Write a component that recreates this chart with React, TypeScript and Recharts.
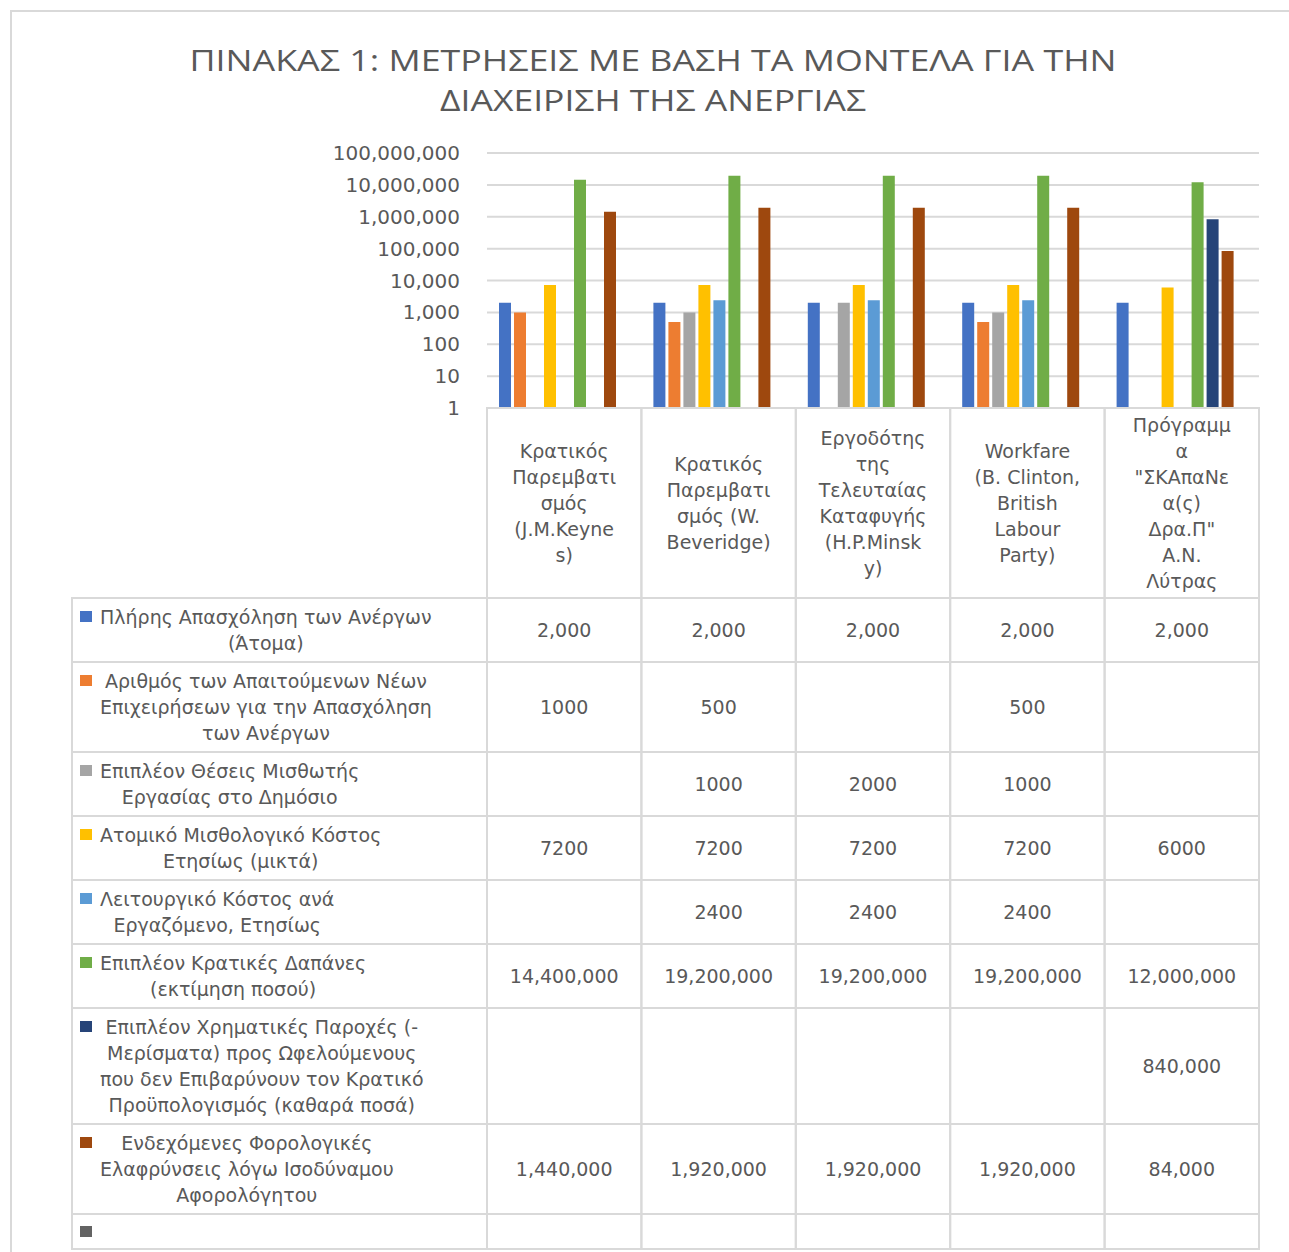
import React from 'react';
import { BarChart, Bar, XAxis, YAxis, CartesianGrid } from 'recharts';

// ---------- DATA ----------
const categories = [
  'Κρατικός Παρεμβατισμός (J.M.Keynes)',
  'Κρατικός Παρεμβατισμός (W. Beveridge)',
  'Εργοδότης της Τελευταίας Καταφυγής (H.P.Minsky)',
  'Workfare (B. Clinton, British Labour Party)',
  'Πρόγραμμα "ΣΚΑπαΝεα(ς) Δρα.Π" Α.Ν. Λύτρας',
];
const categoryLines = [
  ['Κρατικός', 'Παρεμβατι', 'σμός', '(J.M.Keyne', 's)'],
  ['Κρατικός', 'Παρεμβατι', 'σμός (W.', 'Beveridge)'],
  ['Εργοδότης', 'της', 'Τελευταίας', 'Καταφυγής', '(H.P.Minsk', 'y)'],
  ['Workfare', '(B. Clinton,', 'British', 'Labour', 'Party)'],
  ['Πρόγραμμ', 'α', '"ΣΚΑπαΝε', 'α(ς)', 'Δρα.Π"', 'Α.Ν.', 'Λύτρας'],
];

const fullEmployment = [2000, 2000, 2000, 2000, 2000];
const newBusinesses = [1000, 500, null, 500, null];
const publicJobs = [null, 1000, 2000, 1000, null];
const wageCost = [7200, 7200, 7200, 7200, 6000];
const operatingCost = [null, 2400, 2400, 2400, null];
const stateSpending = [14400000, 19200000, 19200000, 19200000, 12000000];
const cashBenefits = [null, null, null, null, 840000];
const taxRelief = [1440000, 1920000, 1920000, 1920000, 84000];
const unnamedSeries = [null, null, null, null, null];

const seriesLabels = [
  ['Πλήρης Απασχόληση των Ανέργων', '(Άτομα)'],
  ['Αριθμός των Απαιτούμενων Νέων', 'Επιχειρήσεων για την Απασχόληση', 'των Ανέργων'],
  ['Επιπλέον Θέσεις Μισθωτής', 'Εργασίας στο Δημόσιο'],
  ['Ατομικό Μισθολογικό Κόστος', 'Ετησίως (μικτά)'],
  ['Λειτουργικό Κόστος ανά', 'Εργαζόμενο, Ετησίως'],
  ['Επιπλέον Κρατικές Δαπάνες', '(εκτίμηση ποσού)'],
  ['Επιπλέον Χρηματικές Παροχές (-', 'Μερίσματα) προς Ωφελούμενους', 'που δεν Επιβαρύνουν τον Κρατικό', 'Προϋπολογισμός (καθαρά ποσά)'],
  ['Ενδεχόμενες Φορολογικές', 'Ελαφρύνσεις λόγω Ισοδύναμου', 'Αφορολόγητου'],
  [],
];

const yTicks = [1, 10, 100, 1000, 10000, 100000, 1000000, 10000000, 100000000];
const titleLines = ['ΠΙΝΑΚΑΣ 1: ΜΕΤΡΗΣΕΙΣ ΜΕ ΒΑΣΗ ΤΑ ΜΟΝΤΕΛΑ ΓΙΑ ΤΗΝ', 'ΔΙΑΧΕΙΡΙΣΗ ΤΗΣ ΑΝΕΡΓΙΑΣ'];

// ---------- STYLE ----------
const colors = ['#4472C4', '#ED7D31', '#A5A5A5', '#FFC000', '#5B9BD5', '#70AD47', '#264478', '#9E480E', '#636363'];
const useThousands = [true, false, false, false, false, true, true, true, false];
const seriesValues = [fullEmployment, newBusinesses, publicJobs, wageCost, operatingCost, stateSpending, cashBenefits, taxRelief, unnamedSeries];

const series = seriesValues.map((values, i) => ({
  key: 's' + i,
  values,
  color: colors[i],
  label: seriesLabels[i],
  thousands: useThousands[i],
}));

const data = categories.map((name, i) => {
  const row: any = { name };
  series.forEach((s) => {
    row[s.key] = s.values[i];
  });
  return row;
});

const W = 1289;
const H = 1252;
const TEXT = '#595959';
const GRID = '#d9d9d9';
const FONT = '"DejaVu Sans", sans-serif';
const FS = 19;
const LINE_H = 26;
const HEADER_H = 190;
const PLOT_TOP = 153;
const PLOT_BOTTOM = 408;
const PLOT_LEFT = 487;
const PLOT_RIGHT = 1259;
const TABLE_LEFT = 72;

const rowHeights = series.map((s) => (s.label.length ? s.label.length * LINE_H + 12 : 35));
const tableHeight = HEADER_H + rowHeights.reduce((a, b) => a + b, 0);

const fmt = (v: number, thousands: boolean) => (thousands ? v.toLocaleString('en-US') : String(v));

const TableColumn = (props: any) => {
  const { x, y, index, width } = props;
  const bw = width / categories.length;
  const left = x - bw / 2;
  const lines = categoryLines[index] || [];
  const headerMid = y + HEADER_H / 2;
  let rowTop = y + HEADER_H;
  const cells = series.map((s, r) => {
    const h = rowHeights[r];
    const top = rowTop;
    rowTop += h;
    const v = s.values[index];
    return (
      <g key={s.key}>
        <rect x={left} y={top} width={bw} height={h} fill="none" stroke={GRID} strokeWidth={2} />
        {v != null && (
          <text x={x} y={top + h / 2} dy="0.36em" textAnchor="middle" fill={TEXT} fontSize={FS} fontFamily={FONT}>
            {fmt(v as number, s.thousands)}
          </text>
        )}
      </g>
    );
  });
  return (
    <g>
      <rect x={left} y={y} width={bw} height={HEADER_H} fill="none" stroke={GRID} strokeWidth={2} />
      <text textAnchor="middle" fill={TEXT} fontSize={FS} fontFamily={FONT}>
        {lines.map((l, k) => (
          <tspan key={k} x={x} y={headerMid + (k - (lines.length - 1) / 2) * LINE_H} dy="0.36em">
            {l}
          </tspan>
        ))}
      </text>
      {cells}
    </g>
  );
};

export default function App() {
  let acc = PLOT_BOTTOM + HEADER_H;
  const rowTops = rowHeights.map((h) => {
    const t = acc;
    acc += h;
    return t;
  });
  return (
    <div style={{ position: 'absolute', left: 0, top: 0, width: W, height: H, background: '#fff', overflow: 'hidden' }}>
      <div
        style={{
          position: 'absolute',
          left: 10,
          top: 10,
          width: W - 10,
          height: H - 10,
          borderTop: `2px solid ${GRID}`,
          borderLeft: `2px solid ${GRID}`,
          boxSizing: 'border-box',
        }}
      />
      <BarChart
        width={W}
        height={H}
        data={data}
        margin={{ top: PLOT_TOP, right: W - PLOT_RIGHT, left: 0, bottom: H - PLOT_BOTTOM - tableHeight }}
        barCategoryGap={12}
        barGap={3}
      >
        <CartesianGrid vertical={false} stroke={GRID} strokeWidth={2} />
        <YAxis
          scale="log"
          domain={[1, 100000000]}
          allowDataOverflow
          ticks={yTicks}
          interval={0}
          width={PLOT_LEFT}
          axisLine={false}
          tickLine={false}
          tickSize={0}
          tickMargin={27}
          tickFormatter={(v: number) => v.toLocaleString('en-US')}
          tick={{ fill: TEXT, fontSize: FS + 1, fontFamily: FONT }}
        />
        <XAxis
          dataKey="name"
          height={tableHeight}
          interval={0}
          axisLine={false}
          tickLine={false}
          tickSize={0}
          tickMargin={0}
          tick={<TableColumn />}
        />
        {series.map((s) => (
          <Bar key={s.key} dataKey={s.key} fill={s.color} isAnimationActive={false} />
        ))}
      </BarChart>

      {/* title */}
      <svg style={{ position: 'absolute', left: 0, top: 0 }} width={W} height={130}>
        <text
          x={653}
          y={71}
          textAnchor="middle"
          fill={TEXT}
          fontSize={29}
          fontFamily='"Open Sans", sans-serif'
          textLength={927}
          lengthAdjust="spacingAndGlyphs"
        >
          {titleLines[0]}
        </text>
        <text
          x={653}
          y={111}
          textAnchor="middle"
          fill={TEXT}
          fontSize={29}
          fontFamily='"Open Sans", sans-serif'
          textLength={426}
          lengthAdjust="spacingAndGlyphs"
        >
          {titleLines[1]}
        </text>
      </svg>

      {/* table row headers with legend keys */}
      {series.map((s, r) => (
        <div
          key={s.key}
          style={{
            position: 'absolute',
            left: TABLE_LEFT - 1,
            top: rowTops[r] - 1,
            width: PLOT_LEFT - TABLE_LEFT + 1,
            height: rowHeights[r] + 2,
            boxSizing: 'border-box',
            borderTop: `2px solid ${GRID}`,
            borderBottom: `2px solid ${GRID}`,
            borderLeft: `2px solid ${GRID}`,
            display: 'flex',
            alignItems: 'center',
          }}
        >
          <div style={{ position: 'relative', width: '100%', minHeight: LINE_H }}>
            <div
              style={{
                position: 'absolute',
                left: 7,
                top: 7,
                width: 12,
                height: 11,
                background: s.color,
              }}
            />
            <div
              style={{
                display: 'inline-block',
                marginLeft: 27,
                textAlign: 'center',
                whiteSpace: 'nowrap',
                lineHeight: `${LINE_H}px`,
                fontSize: FS,
                fontFamily: FONT,
                color: TEXT,
              }}
            >
              {s.label.map((l, k) => (
                <div key={k}>{l}</div>
              ))}
            </div>
          </div>
        </div>
      ))}
    </div>
  );
}
